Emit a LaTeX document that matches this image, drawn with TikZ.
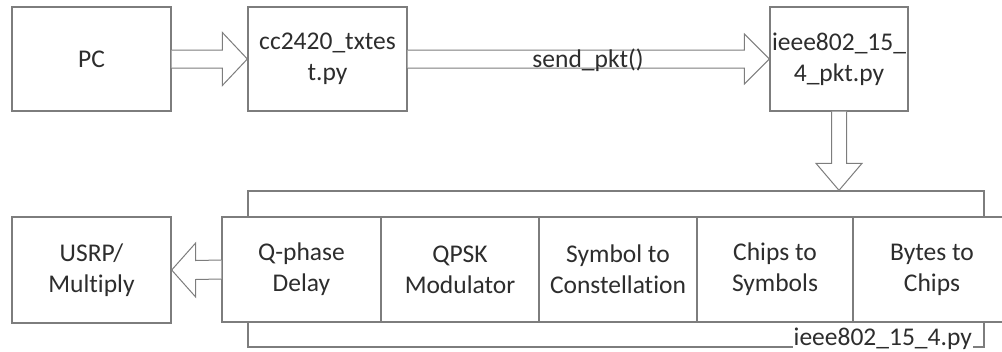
\documentclass[tikz,border=0pt]{standalone}
\usepackage{fontspec}
\setmainfont{Carlito}[Ligatures=NoCommon]
\usetikzlibrary{calc}
\definecolor{edgegray}{RGB}{125,125,125}
\definecolor{inkgray}{RGB}{45,45,45}
\tikzset{
  box/.style={draw=edgegray, line width=1.3pt, fill=white, rectangle,
    inner sep=0pt, align=center, text=inkgray,
    font=\fontsize{25.5}{31}\selectfont},
  cell/.style={box, minimum height=105pt},
  fatarrow/.style={draw=edgegray, line width=1pt, fill=white, line join=miter},
  plain/.style={text=inkgray, font=\fontsize{25.5}{31}\selectfont, inner sep=1pt}
}
\begin{document}
\begin{tikzpicture}[x=1pt,y=-1pt]
\useasboundingbox (0,0) rectangle (1002,351);
\clip (0,0) rectangle (1002,351);

% top row
\node[box, minimum width=159pt, minimum height=104pt] (pc) at (91.5,59) {PC};
\node[box, minimum width=159pt, minimum height=104pt] (cc) at (327.5,59) {cc2420\_txtes\\t.py};
\node[box, minimum width=138pt, minimum height=104pt] (pkt) at (839,59) {ieee802\_15\_\\4\_pkt.py};

% enclosing module frame
\node[draw=edgegray, line width=1.3pt, rectangle, inner sep=0pt,
      minimum width=736pt, minimum height=156pt] (mod) at (616,269) {};

% module stages
\node[cell, minimum width=159pt] (qd)    at (301.5,269.5) {Q-phase\\Delay};
\node[cell, minimum width=158pt] (qpsk)  at (460,269.5)   {QPSK\\Modulator};
\node[cell, minimum width=158pt] (sym)   at (618,269.5)   {Symbol to\\Constellation};
\node[cell, minimum width=156pt] (chips) at (775,269.5)   {Chips to\\Symbols};
\node[cell, minimum width=158pt] (bytes) at (932,269.5)   {Bytes to\\Chips};

\node[box, minimum width=159pt, minimum height=106pt] (usrp) at (91.5,270) {USRP/\\Multiply};

\node[plain, fill=white, anchor=base east] (modlbl) at (973,345) {ieee802\_15\_4.py};

% PC -> cc2420_txtest.py
\draw[fatarrow] ($(pc.east)+(0,-9)$) -- ($(cc.west)+(-25,-9)$) -- ($(cc.west)+(-25,-26.5)$)
  -- (cc.west) -- ($(cc.west)+(-25,26.5)$) -- ($(cc.west)+(-25,9)$) -- ($(pc.east)+(0,9)$);

% cc2420_txtest.py -> ieee802_15_4_pkt.py
\draw[fatarrow] ($(cc.east)+(0,-9)$) -- ($(pkt.west)+(-25,-9)$) -- ($(pkt.west)+(-25,-25)$)
  -- (pkt.west) -- ($(pkt.west)+(-25,25)$) -- ($(pkt.west)+(-25,9)$) -- ($(cc.east)+(0,9)$);
\node[plain] (sendlbl) at (588,60) {send\_pkt()};

% ieee802_15_4_pkt.py -> module
\coordinate (modin) at (pkt.south |- mod.north);
\draw[fatarrow] ($(pkt.south)+(-7.5,0)$) -- ($(modin)+(-7.5,-27)$) -- ($(modin)+(-23,-27)$)
  -- (modin) -- ($(modin)+(23,-27)$) -- ($(modin)+(7.5,-27)$) -- ($(pkt.south)+(7.5,0)$);

% Q-phase Delay -> USRP/Multiply
\draw[fatarrow] ($(qd.west)+(0,-9.5)$) -- ($(usrp.east)+(24,-9.5)$) -- ($(usrp.east)+(24,-27)$)
  -- (usrp.east) -- ($(usrp.east)+(24,27)$) -- ($(usrp.east)+(24,9.5)$) -- ($(qd.west)+(0,9.5)$);
\end{tikzpicture}
\end{document}
